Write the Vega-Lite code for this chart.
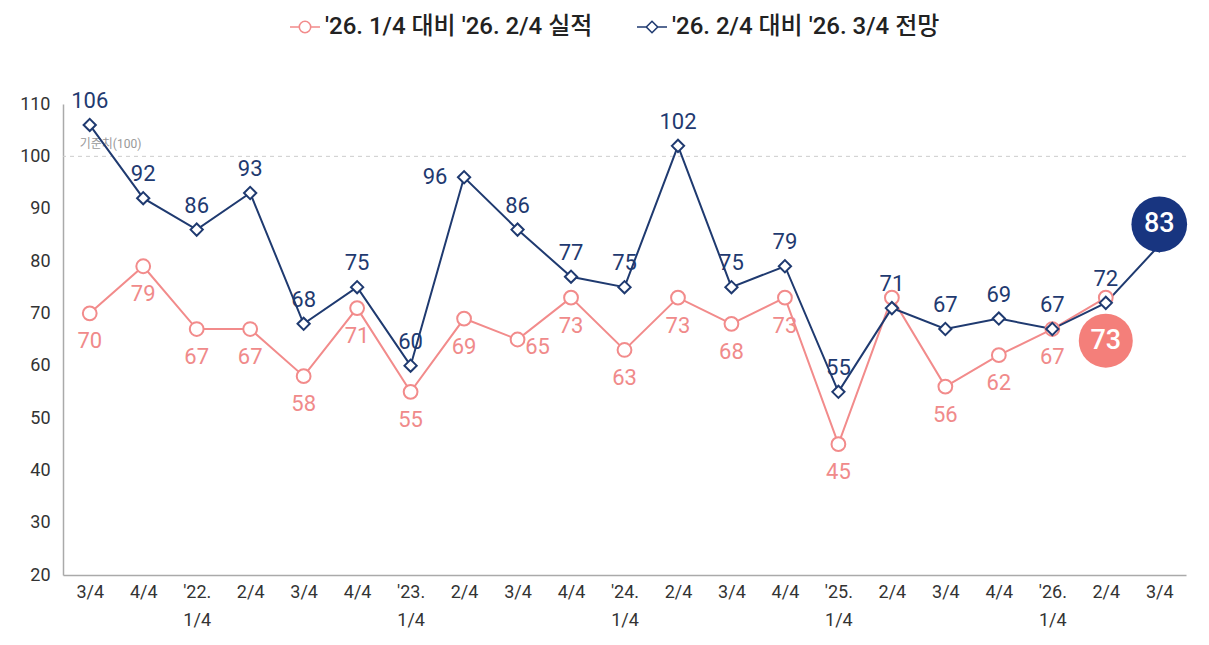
{
  "$schema": "https://vega.github.io/schema/vega-lite/v6.json",
  "width": 1123,
  "height": 471,
  "autosize": "none",
  "padding": {"left": 63, "top": 104, "right": 23, "bottom": 70},
  "background": "#ffffff",
  "config": {"view": {"stroke": null}, "font": "Roboto, Noto Sans CJK KR"},
  "datasets": {
    "main": [
      {"q": "21-3/4", "series": "'26. 1/4 대비 '26. 2/4 실적", "value": 70},
      {"q": "21-4/4", "series": "'26. 1/4 대비 '26. 2/4 실적", "value": 79},
      {"q": "22-1/4", "series": "'26. 1/4 대비 '26. 2/4 실적", "value": 67},
      {"q": "22-2/4", "series": "'26. 1/4 대비 '26. 2/4 실적", "value": 67},
      {"q": "22-3/4", "series": "'26. 1/4 대비 '26. 2/4 실적", "value": 58},
      {"q": "22-4/4", "series": "'26. 1/4 대비 '26. 2/4 실적", "value": 71},
      {"q": "23-1/4", "series": "'26. 1/4 대비 '26. 2/4 실적", "value": 55},
      {"q": "23-2/4", "series": "'26. 1/4 대비 '26. 2/4 실적", "value": 69},
      {"q": "23-3/4", "series": "'26. 1/4 대비 '26. 2/4 실적", "value": 65},
      {"q": "23-4/4", "series": "'26. 1/4 대비 '26. 2/4 실적", "value": 73},
      {"q": "24-1/4", "series": "'26. 1/4 대비 '26. 2/4 실적", "value": 63},
      {"q": "24-2/4", "series": "'26. 1/4 대비 '26. 2/4 실적", "value": 73},
      {"q": "24-3/4", "series": "'26. 1/4 대비 '26. 2/4 실적", "value": 68},
      {"q": "24-4/4", "series": "'26. 1/4 대비 '26. 2/4 실적", "value": 73},
      {"q": "25-1/4", "series": "'26. 1/4 대비 '26. 2/4 실적", "value": 45},
      {"q": "25-2/4", "series": "'26. 1/4 대비 '26. 2/4 실적", "value": 73},
      {"q": "25-3/4", "series": "'26. 1/4 대비 '26. 2/4 실적", "value": 56},
      {"q": "25-4/4", "series": "'26. 1/4 대비 '26. 2/4 실적", "value": 62},
      {"q": "26-1/4", "series": "'26. 1/4 대비 '26. 2/4 실적", "value": 67},
      {"q": "26-2/4", "series": "'26. 1/4 대비 '26. 2/4 실적", "value": 73},
      {"q": "21-3/4", "series": "'26. 2/4 대비 '26. 3/4 전망", "value": 106},
      {"q": "21-4/4", "series": "'26. 2/4 대비 '26. 3/4 전망", "value": 92},
      {"q": "22-1/4", "series": "'26. 2/4 대비 '26. 3/4 전망", "value": 86},
      {"q": "22-2/4", "series": "'26. 2/4 대비 '26. 3/4 전망", "value": 93},
      {"q": "22-3/4", "series": "'26. 2/4 대비 '26. 3/4 전망", "value": 68},
      {"q": "22-4/4", "series": "'26. 2/4 대비 '26. 3/4 전망", "value": 75},
      {"q": "23-1/4", "series": "'26. 2/4 대비 '26. 3/4 전망", "value": 60},
      {"q": "23-2/4", "series": "'26. 2/4 대비 '26. 3/4 전망", "value": 96},
      {"q": "23-3/4", "series": "'26. 2/4 대비 '26. 3/4 전망", "value": 86},
      {"q": "23-4/4", "series": "'26. 2/4 대비 '26. 3/4 전망", "value": 77},
      {"q": "24-1/4", "series": "'26. 2/4 대비 '26. 3/4 전망", "value": 75},
      {"q": "24-2/4", "series": "'26. 2/4 대비 '26. 3/4 전망", "value": 102},
      {"q": "24-3/4", "series": "'26. 2/4 대비 '26. 3/4 전망", "value": 75},
      {"q": "24-4/4", "series": "'26. 2/4 대비 '26. 3/4 전망", "value": 79},
      {"q": "25-1/4", "series": "'26. 2/4 대비 '26. 3/4 전망", "value": 55},
      {"q": "25-2/4", "series": "'26. 2/4 대비 '26. 3/4 전망", "value": 71},
      {"q": "25-3/4", "series": "'26. 2/4 대비 '26. 3/4 전망", "value": 67},
      {"q": "25-4/4", "series": "'26. 2/4 대비 '26. 3/4 전망", "value": 69},
      {"q": "26-1/4", "series": "'26. 2/4 대비 '26. 3/4 전망", "value": 67},
      {"q": "26-2/4", "series": "'26. 2/4 대비 '26. 3/4 전망", "value": 72},
      {"q": "26-3/4", "series": "'26. 2/4 대비 '26. 3/4 전망", "value": 83}
    ],
    "ref": [{"q": "21-3/4", "ref": 100, "label": "기준치(100)"}]
  },
  "data": {"name": "main"},
  "encoding": {
    "x": {
      "field": "q",
      "type": "ordinal",
      "scale": {"domain": ["21-3/4","21-4/4","22-1/4","22-2/4","22-3/4","22-4/4","23-1/4","23-2/4","23-3/4","23-4/4","24-1/4","24-2/4","24-3/4","24-4/4","25-1/4","25-2/4","25-3/4","25-4/4","26-1/4","26-2/4","26-3/4"]},
      "axis": {
        "title": null,
        "ticks": false,
        "domainColor": "#aaaaaa",
        "domainWidth": 1.5,
        "labelAngle": 0,
        "labelFontSize": 18,
        "labelColor": "#333333",
        "labelPadding": 8,
        "labelLineHeight": 28,
        "labelExpr": "substring(datum.value,3)=='1/4' ? [\"'\"+substring(datum.value,0,2)+'.', '1/4'] : substring(datum.value,3)"
      }
    },
    "y": {
      "field": "value",
      "type": "quantitative",
      "scale": {"domain": [20, 110], "nice": false, "zero": false},
      "axis": {
        "title": null,
        "ticks": false,
        "grid": false,
        "domainColor": "#aaaaaa",
        "domainWidth": 1.5,
        "labelFontSize": 18,
        "labelColor": "#333333",
        "labelPadding": 13,
        "values": [20, 30, 40, 50, 60, 70, 80, 90, 100, 110]
      }
    }
  },
  "layer": [
    {
      "data": {"name": "ref"},
      "mark": {"type": "rule", "color": "#cccccc", "strokeDash": [4, 4], "strokeWidth": 1},
      "encoding": {"x": null, "y": {"field": "ref", "type": "quantitative"}}
    },
    {
      "data": {"name": "ref"},
      "mark": {"type": "text", "color": "#999999", "fontSize": 12, "align": "left", "dx": -10, "dy": -12},
      "encoding": {"y": {"field": "ref", "type": "quantitative"}, "text": {"field": "label"}}
    },
    {
      "mark": {"type": "point", "fillOpacity": 0, "strokeOpacity": 0},
      "encoding": {
        "shape": {
          "field": "series",
          "type": "nominal",
          "scale": {
            "domain": ["'26. 1/4 대비 '26. 2/4 실적", "'26. 2/4 대비 '26. 3/4 전망"],
            "range": [
              "M-1,0L-0.38,0M0.38,0L1,0M0.38,0A0.38,0.38,0,1,1,-0.38,0A0.38,0.38,0,1,1,0.38,0Z",
              "M-1,0L-0.38,0M0.38,0L1,0M-0.38,0L0,-0.38L0.38,0L0,0.38Z"
            ]
          },
          "legend": {
            "title": null,
            "orient": "none",
            "legendX": 226,
            "legendY": -93,
            "direction": "horizontal",
            "symbolSize": 900,
            "symbolStrokeWidth": 1.6,
            "symbolOpacity": 1,
            "symbolFillColor": "#ffffff",
            "labelFontSize": 24,
            "labelFontWeight": 500,
            "labelColor": "#222222",
            "labelFont": "Roboto, Noto Sans CJK KR",
            "labelOffset": 4,
            "columnPadding": 40,
            "padding": 0,
            "labelLimit": 400,
            "encode": {
              "symbols": {
                "update": {
                  "fillOpacity": {"value": 1},
                  "strokeOpacity": {"value": 1},
                  "stroke": {"signal": "indexof(datum.value, '실적') >= 0 ? '#F28B8B' : '#1F3A70'"}
                }
              }
            }
          }
        }
      }
    },
    {
      "mark": {"type": "line", "strokeWidth": 2},
      "encoding": {
        "color": {
          "field": "series",
          "type": "nominal",
          "scale": {"domain": ["'26. 1/4 대비 '26. 2/4 실적", "'26. 2/4 대비 '26. 3/4 전망"], "range": ["#F28B8B", "#1F3A70"]},
          "legend": null
        }
      }
    },
    {
      "transform": [{"filter": {"field": "series", "equal": "'26. 1/4 대비 '26. 2/4 실적"}}],
      "mark": {"type": "point", "shape": "circle", "size": 190, "filled": true, "fill": "#ffffff", "stroke": "#F28B8B", "strokeWidth": 2, "opacity": 1}
    },
    {
      "transform": [{"filter": {"field": "series", "equal": "'26. 2/4 대비 '26. 3/4 전망"}}],
      "mark": {"type": "point", "shape": "diamond", "size": 150, "filled": true, "fill": "#ffffff", "stroke": "#1F3A70", "strokeWidth": 2, "opacity": 1}
    },
    {
      "transform": [
        {"filter": {"field": "series", "equal": "'26. 1/4 대비 '26. 2/4 실적"}},
        {"filter": {"not": {"field": "q", "oneOf": ["23-3/4", "25-2/4", "26-2/4"]}}}
      ],
      "mark": {"type": "text", "color": "#F08A8A", "fontSize": 22, "dy": 28},
      "encoding": {"text": {"field": "value"}}
    },
    {
      "transform": [
        {"filter": {"field": "series", "equal": "'26. 1/4 대비 '26. 2/4 실적"}},
        {"filter": {"field": "q", "equal": "23-3/4"}}
      ],
      "mark": {"type": "text", "color": "#F08A8A", "fontSize": 22, "dx": 20, "dy": 7},
      "encoding": {"text": {"field": "value"}}
    },
    {
      "transform": [
        {"filter": {"field": "series", "equal": "'26. 2/4 대비 '26. 3/4 전망"}},
        {"filter": {"not": {"field": "q", "oneOf": ["23-2/4", "26-3/4"]}}}
      ],
      "mark": {"type": "text", "color": "#1F3A70", "fontSize": 22, "dy": -24},
      "encoding": {"text": {"field": "value"}}
    },
    {
      "transform": [
        {"filter": {"field": "series", "equal": "'26. 2/4 대비 '26. 3/4 전망"}},
        {"filter": {"field": "q", "equal": "23-2/4"}}
      ],
      "mark": {"type": "text", "color": "#1F3A70", "fontSize": 22, "dx": -29, "dy": 0},
      "encoding": {"text": {"field": "value"}}
    },
    {
      "transform": [
        {"filter": {"field": "series", "equal": "'26. 1/4 대비 '26. 2/4 실적"}},
        {"filter": {"field": "q", "equal": "26-2/4"}}
      ],
      "mark": {"type": "point", "shape": "circle", "size": 2916, "filled": true, "color": "#F47F7A", "opacity": 1, "yOffset": 43}
    },
    {
      "transform": [
        {"filter": {"field": "series", "equal": "'26. 1/4 대비 '26. 2/4 실적"}},
        {"filter": {"field": "q", "equal": "26-2/4"}}
      ],
      "mark": {"type": "text", "color": "#ffffff", "fontSize": 27, "fontWeight": 500, "dy": 43},
      "encoding": {"text": {"field": "value"}}
    },
    {
      "transform": [
        {"filter": {"field": "series", "equal": "'26. 2/4 대비 '26. 3/4 전망"}},
        {"filter": {"field": "q", "equal": "26-3/4"}}
      ],
      "mark": {"type": "point", "shape": "circle", "size": 3100, "filled": true, "color": "#183580", "opacity": 1, "yOffset": -21}
    },
    {
      "transform": [
        {"filter": {"field": "series", "equal": "'26. 2/4 대비 '26. 3/4 전망"}},
        {"filter": {"field": "q", "equal": "26-3/4"}}
      ],
      "mark": {"type": "text", "color": "#ffffff", "fontSize": 27, "fontWeight": 500, "dy": -21},
      "encoding": {"text": {"field": "value"}}
    }
  ]
}
